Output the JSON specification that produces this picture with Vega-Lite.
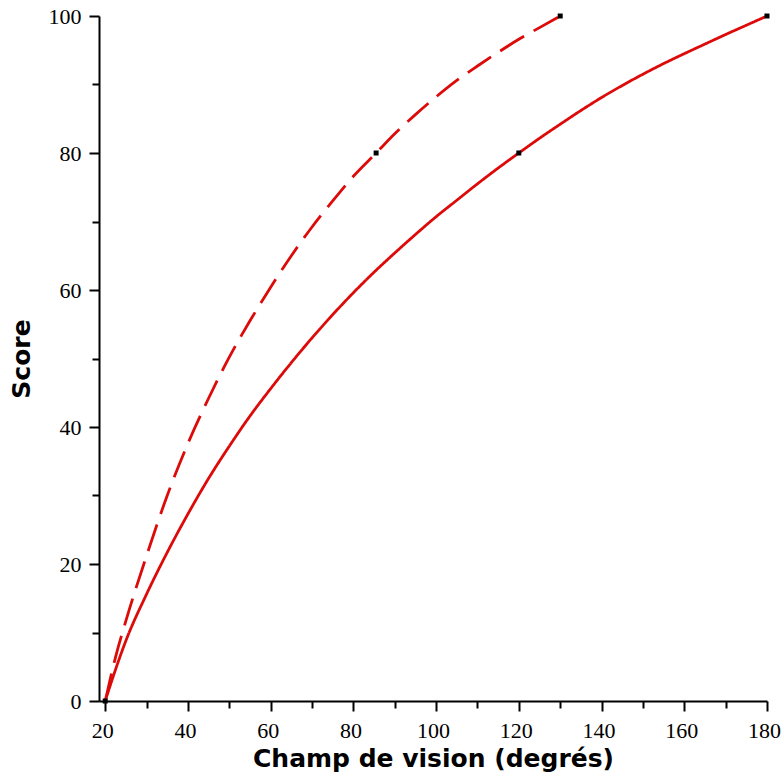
{
  "$schema": "https://vega.github.io/schema/vega-lite/v6.json",
  "width": 668,
  "height": 685,
  "autosize": {"type": "none"},
  "padding": {"left": 99, "top": 16, "right": 14, "bottom": 82},
  "background": "white",
  "config": {"view": {"stroke": null}},
  "datasets": {
    "curves": [
      {"series": "solid", "x": 20, "y": 0},
      {"series": "solid", "x": 22.5, "y": 4.6},
      {"series": "solid", "x": 25, "y": 8.8},
      {"series": "solid", "x": 30, "y": 15.6},
      {"series": "solid", "x": 35, "y": 21.7},
      {"series": "solid", "x": 40, "y": 27.3},
      {"series": "solid", "x": 45, "y": 32.5},
      {"series": "solid", "x": 50, "y": 37.2},
      {"series": "solid", "x": 55, "y": 41.6},
      {"series": "solid", "x": 60, "y": 45.6},
      {"series": "solid", "x": 65, "y": 49.4},
      {"series": "solid", "x": 70, "y": 53.0},
      {"series": "solid", "x": 75, "y": 56.4},
      {"series": "solid", "x": 80, "y": 59.6},
      {"series": "solid", "x": 85, "y": 62.6},
      {"series": "solid", "x": 90, "y": 65.4},
      {"series": "solid", "x": 95, "y": 68.1},
      {"series": "solid", "x": 100, "y": 70.7},
      {"series": "solid", "x": 105, "y": 73.1},
      {"series": "solid", "x": 110, "y": 75.5},
      {"series": "solid", "x": 115, "y": 77.8},
      {"series": "solid", "x": 120, "y": 80},
      {"series": "solid", "x": 125, "y": 82.15},
      {"series": "solid", "x": 130, "y": 84.2},
      {"series": "solid", "x": 135, "y": 86.2},
      {"series": "solid", "x": 140, "y": 88.1},
      {"series": "solid", "x": 145, "y": 89.85},
      {"series": "solid", "x": 150, "y": 91.5},
      {"series": "solid", "x": 155, "y": 93.05},
      {"series": "solid", "x": 160, "y": 94.5},
      {"series": "solid", "x": 165, "y": 95.9},
      {"series": "solid", "x": 170, "y": 97.3},
      {"series": "solid", "x": 175, "y": 98.65},
      {"series": "solid", "x": 180, "y": 100},
      {"series": "dashed", "x": 20, "y": 0},
      {"series": "dashed", "x": 22.5, "y": 6.4},
      {"series": "dashed", "x": 25, "y": 11.7},
      {"series": "dashed", "x": 30, "y": 21.2},
      {"series": "dashed", "x": 35, "y": 30.0},
      {"series": "dashed", "x": 40, "y": 37.6},
      {"series": "dashed", "x": 45, "y": 44.2},
      {"series": "dashed", "x": 50, "y": 50.2},
      {"series": "dashed", "x": 55, "y": 55.5},
      {"series": "dashed", "x": 60, "y": 60.4},
      {"series": "dashed", "x": 65, "y": 65.0},
      {"series": "dashed", "x": 70, "y": 69.2},
      {"series": "dashed", "x": 75, "y": 73.0},
      {"series": "dashed", "x": 80, "y": 76.6},
      {"series": "dashed", "x": 85.5, "y": 80},
      {"series": "dashed", "x": 90, "y": 82.8},
      {"series": "dashed", "x": 95, "y": 85.6},
      {"series": "dashed", "x": 100, "y": 88.2},
      {"series": "dashed", "x": 105, "y": 90.6},
      {"series": "dashed", "x": 110, "y": 92.7},
      {"series": "dashed", "x": 115, "y": 94.7},
      {"series": "dashed", "x": 120, "y": 96.6},
      {"series": "dashed", "x": 125, "y": 98.3},
      {"series": "dashed", "x": 130, "y": 100}
    ],
    "points": [
      {"x": 20, "y": 0},
      {"x": 85.5, "y": 80},
      {"x": 130, "y": 100},
      {"x": 120, "y": 80},
      {"x": 180, "y": 100}
    ]
  },
  "layer": [
    {
      "data": {"name": "curves"},
      "mark": {"type": "line", "interpolate": "monotone", "strokeWidth": 2.8, "color": "#dd0a0a"},
      "encoding": {
        "x": {
          "field": "x", "type": "quantitative",
          "scale": {"domain": [18.5, 180], "nice": false, "zero": false},
          "axis": {
            "values": [20, 30, 40, 50, 60, 70, 80, 90, 100, 110, 120, 130, 140, 150, 160, 170, 180],
            "labelExpr": "datum.value % 20 === 0 ? datum.label : ''",
            "grid": false,
            "domainColor": "black", "domainWidth": 2,
            "tickColor": "black", "tickWidth": 2,
            "tickSize": {"condition": {"test": "datum.value % 20 === 0", "value": 10}, "value": 7},
            "labelFont": "Liberation Serif", "labelFontSize": 22, "labelColor": "black", "labelPadding": 9,
            "labelOffset": -3,
            "labelFlush": false, "labelOverlap": false,
            "title": "Champ de vision (degrés)",
            "titleFont": "DejaVu Sans", "titleFontWeight": "bold", "titleFontSize": 25, "titleColor": "black",
            "titlePadding": 5
          }
        },
        "y": {
          "field": "y", "type": "quantitative",
          "scale": {"domain": [0, 100], "nice": false},
          "axis": {
            "values": [0, 10, 20, 30, 40, 50, 60, 70, 80, 90, 100],
            "labelExpr": "datum.value % 20 === 0 ? datum.label : ''",
            "grid": false,
            "domainColor": "black", "domainWidth": 2,
            "tickColor": "black", "tickWidth": 2,
            "tickSize": {"condition": {"test": "datum.value % 20 === 0", "value": 10}, "value": 7},
            "labelFont": "Liberation Serif", "labelFontSize": 22, "labelColor": "black", "labelPadding": 8,
            "labelFlush": false, "labelOverlap": false,
            "title": "Score",
            "titleFont": "DejaVu Sans", "titleFontWeight": "bold", "titleFontSize": 25, "titleColor": "black",
            "titlePadding": 14
          }
        },
        "detail": {"field": "series"},
        "strokeDash": {
          "field": "series", "type": "nominal",
          "scale": {"domain": ["solid", "dashed"], "range": [[1, 0], [28, 11]]},
          "legend": null
        }
      }
    },
    {
      "data": {"name": "points"},
      "mark": {"type": "square", "size": 25, "color": "black", "filled": true, "opacity": 1},
      "encoding": {
        "x": {"field": "x", "type": "quantitative"},
        "y": {"field": "y", "type": "quantitative"}
      }
    }
  ]
}
